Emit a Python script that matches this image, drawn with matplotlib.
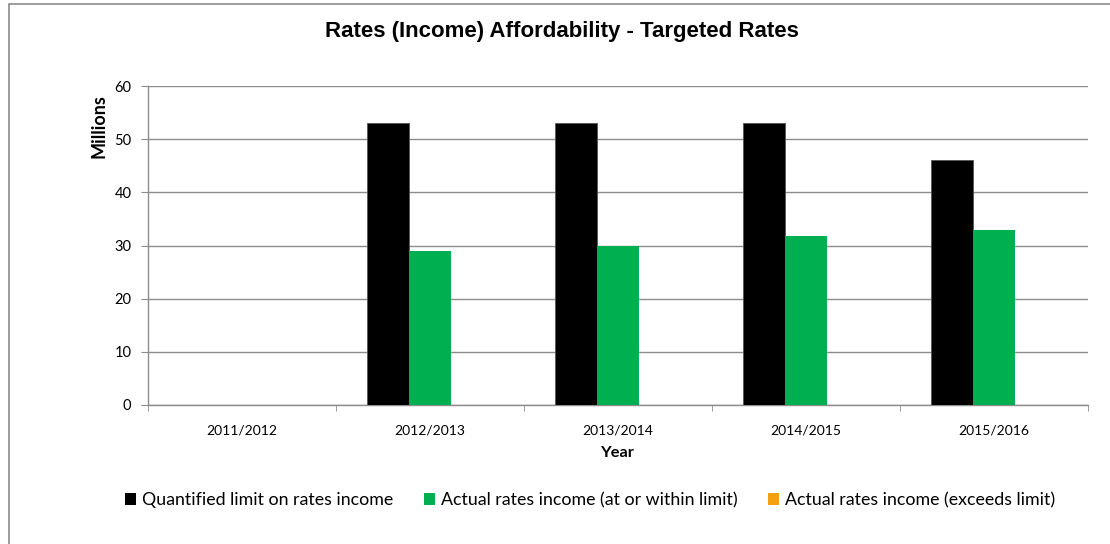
import matplotlib
matplotlib.use("Agg")
import matplotlib.pyplot as plt
from matplotlib.patches import Rectangle, Patch
import numpy as np

years = ["2011/2012", "2012/2013", "2013/2014", "2014/2015", "2015/2016"]
limit = [0, 53.0, 53.0, 53.0, 46.0]
actual_within = [0, 28.9, 30.0, 31.8, 32.9]
actual_exceeds = [0, 0, 0, 0, 0]
series_names = ["Quantified limit on rates income",
                "Actual rates income (at or within limit)",
                "Actual rates income (exceeds limit)"]
colors = ["#000000", "#00B050", "#F5A00F"]
yticks = [0, 10, 20, 30, 40, 50, 60]

W, H = 1110, 544
fig = plt.figure(figsize=(W/100, H/100), dpi=100)
ax = fig.add_axes([148/W, 1-405/H, (1088-148)/W, (405-86)/H])

x = np.arange(len(years))
bw = 1/4.5
bars = []
for i, (vals, c, name) in enumerate(zip([limit, actual_within, actual_exceeds], colors, series_names)):
    b = ax.bar(x + (i-1)*bw, vals, width=bw, color=c, label=name,
               edgecolor="#555555" if i == 0 else "none", linewidth=0.6 if i == 0 else 0, zorder=3)
    bars.append(b)

ax.set_xlim(-0.5, len(years)-0.5)
ax.set_ylim(0, 60)
ax.set_yticks(yticks)
ax.yaxis.grid(True, color="#8c8c8c", linewidth=1.0, zorder=0)
ax.set_axisbelow(True)
for s in ["top", "right"]:
    ax.spines[s].set_visible(False)
for s in ["left", "bottom"]:
    ax.spines[s].set_color("#8c8c8c")
    ax.spines[s].set_linewidth(1.0)

tick_font = "Lato"
ax.set_xticks(x)
ax.set_xticklabels(years, fontsize=10, family=tick_font)
ax.set_xticks(np.arange(-0.5, len(years)), minor=True)
ax.tick_params(axis="x", which="major", length=0, pad=14)
ax.tick_params(axis="x", which="minor", length=4, color="#8c8c8c", direction="out")
ax.tick_params(axis="y", length=5, color="#8c8c8c", direction="out", pad=7)
for lab in ax.get_yticklabels():
    lab.set_fontsize(10.5)
    lab.set_family(tick_font)

fig.text(617/W, 1-453/H, "Year", ha="center", va="center",
         fontsize=11.8, fontweight="bold", family=tick_font)
fig.text(99/W, 1-126/H, "Millions", rotation=90, ha="center", va="center",
         fontsize=13, fontweight="bold", family=tick_font)

fig.text(562/W, 1-31/H, "Rates (Income) Affordability - Targeted Rates", ha="center", va="center",
         fontsize=16, fontweight="bold", family="Liberation Sans")

handles = [Patch(facecolor=c, edgecolor="none") for c in colors]
fig.legend(handles, series_names, loc="center", bbox_to_anchor=(590/W, 1-500/H), ncol=3,
           frameon=False, handlelength=0.62, handleheight=0.62, handletextpad=0.35,
           columnspacing=1.7, borderpad=0, borderaxespad=0,
           prop={"family": tick_font, "size": 12.8})

fig.patches.append(Rectangle((8.5/W, -0.1), 1.2, 1-4.5/H+0.1, transform=fig.transFigure,
                             fill=False, edgecolor="#8c8c8c", linewidth=1.2))

fig.savefig("out.png", dpi=100)
